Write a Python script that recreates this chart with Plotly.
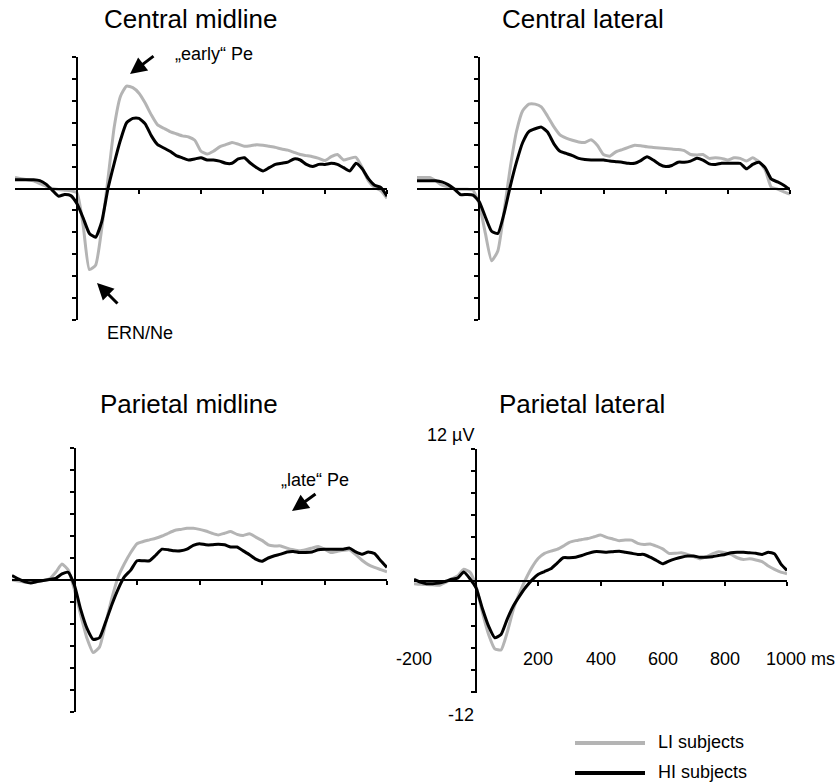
import plotly.graph_objects as go

# time base (ms)
t_ms = list(range(-200, 1001, 20))

# Central midline
cm_li = [1.0, 0.9, 0.8, 0.7, 0.45, 0.2, 0.0, -0.1, -0.15, -0.2,
         -0.4, -3.4, -7.4, -7.0, -3.6, 0.9, 5.6, 8.4, 9.35, 9.2,
         8.7, 7.8, 6.7, 5.8, 5.5, 5.2, 5.0, 4.8, 4.7, 4.4,
         3.4, 3.15, 3.4, 3.8, 4.0, 4.2, 4.05, 3.85, 3.9, 4.0,
         3.95, 3.85, 3.75, 3.6, 3.5, 3.3, 3.1, 3.0, 2.9, 2.75,
         2.55, 2.9, 3.1, 2.6, 2.75, 2.85, 1.9, 0.7, 0.1, -0.2, -0.9]
cm_hi = [0.8, 0.8, 0.8, 0.8, 0.72, 0.4, -0.15, -0.7, -0.55, -0.65,
         -1.4, -2.7, -4.1, -4.45, -3.0, 0.0, 2.3, 4.4, 6.0, 6.4,
         6.4, 5.9, 4.8, 4.0, 3.7, 3.4, 3.0, 2.8, 2.6, 2.7,
         2.8, 2.6, 2.6, 2.5, 2.3, 2.3, 2.7, 2.8, 2.3, 1.9,
         1.6, 1.9, 2.2, 2.3, 2.4, 2.7, 2.6, 2.2, 2.0, 2.2,
         2.2, 2.3, 2.2, 1.9, 1.6, 2.3, 1.8, 0.9, 0.3, 0.1, -0.7]

# Central lateral
cl_li = [1.0, 1.0, 1.0, 0.7, 0.3, 0.15, -0.05, -0.06, -0.06, -0.15,
         -1.4, -4.1, -6.6, -5.7, -2.1, 1.9, 5.2, 7.1, 7.7, 7.7,
         7.45, 6.6, 5.65, 4.9, 4.6, 4.4, 4.25, 4.2, 4.45, 3.95,
         3.1, 2.95, 3.35, 3.55, 3.75, 3.95, 3.9, 3.8, 3.75, 3.7,
         3.65, 3.6, 3.55, 3.45, 3.1, 3.05, 3.1, 2.75, 2.8, 2.75,
         2.6, 2.8, 2.75, 2.5, 2.8, 2.45, 1.7, 0.1, -0.05, -0.3, -0.5]
cl_hi = [0.7, 0.7, 0.7, 0.7, 0.6, 0.35, -0.05, -0.55, -0.55, -0.6,
         -1.2, -2.6, -3.9, -4.1, -2.3, 0.2, 2.4, 4.2, 5.2, 5.45,
         5.6, 5.15, 4.1, 3.4, 3.2, 3.0, 2.75, 2.65, 2.6, 2.6,
         2.6, 2.5, 2.45, 2.4, 2.3, 2.3, 2.55, 2.9, 2.6, 2.2,
         2.0, 2.1, 2.4, 2.4, 2.5, 2.75, 2.6, 2.25, 2.2, 2.3,
         2.3, 2.3, 2.3, 1.8, 2.2, 2.4, 1.9, 0.85, 0.6, 0.3, -0.1]

# Parietal midline
pm_li = [0.0, -0.1, -0.2, -0.18, -0.15, -0.05, 0.1, 0.7, 1.45, 0.9,
         -0.9, -3.2, -5.3, -6.6, -6.1, -3.9, -1.6, 0.3, 1.5, 2.5,
         3.3, 3.5, 3.65, 3.8, 4.0, 4.25, 4.5, 4.6, 4.7, 4.7,
         4.6, 4.45, 4.25, 4.1, 4.25, 4.4, 4.15, 4.05, 4.2, 3.9,
         3.6, 3.2, 3.1, 3.1, 2.9, 2.75, 2.65, 2.75, 2.9, 3.05,
         2.8, 2.5, 2.6, 2.7, 2.75, 2.3, 1.8, 1.4, 1.15, 0.95, 0.75]
pm_hi = [0.4, 0.1, -0.15, -0.27, -0.15, -0.05, 0.05, 0.15, 0.55, 0.7,
         -0.5, -2.7, -4.4, -5.4, -5.25, -3.8, -2.2, -0.8, 0.3, 0.9,
         1.75, 1.75, 1.75, 2.25, 2.8, 2.75, 2.65, 2.65, 2.8, 3.15,
         3.3, 3.2, 3.2, 3.25, 3.2, 3.0, 3.0, 2.65, 2.3, 1.9,
         1.7, 2.0, 2.2, 2.35, 2.55, 2.6, 2.5, 2.5, 2.55, 2.75,
         2.8, 2.8, 2.8, 2.8, 2.9, 2.55, 2.35, 2.55, 2.4, 1.75, 1.15]

# Parietal lateral
pl_li = [-0.2, -0.25, -0.27, -0.3, -0.35, -0.1, 0.2, 0.5, 1.1, 0.85,
         -0.45, -2.8, -4.8, -6.1, -6.2, -4.6, -2.5, -1.0, 0.25, 1.3,
         2.1, 2.55, 2.75, 2.9, 3.2, 3.55, 3.7, 3.8, 3.9, 4.05,
         4.2, 4.0, 3.85, 3.7, 3.75, 3.75, 3.45, 3.35, 3.4, 3.2,
         2.95, 2.55, 2.55, 2.6, 2.45, 2.25, 2.05, 2.25, 2.5, 2.7,
         2.6, 2.45, 2.15, 2.0, 2.05, 1.95, 1.8, 1.4, 1.1, 0.85, 0.7]
pl_hi = [0.2, -0.05, -0.2, -0.2, -0.15, 0.0, 0.2, 0.3, 0.85, 0.25,
         -0.6, -2.45, -4.05, -5.1, -4.8, -3.4, -2.2, -1.3, -0.5, 0.15,
         0.65, 0.9, 1.15, 1.65, 2.15, 2.15, 2.2, 2.35, 2.55, 2.7,
         2.7, 2.65, 2.7, 2.75, 2.65, 2.55, 2.45, 2.45, 2.2, 1.9,
         1.6, 1.85, 2.05, 2.2, 2.3, 2.3, 2.2, 2.2, 2.25, 2.35,
         2.45, 2.6, 2.65, 2.65, 2.6, 2.55, 2.45, 2.65, 2.5, 1.6, 1.0]

panel_titles = ["Central midline", "Central lateral", "Parietal midline", "Parietal lateral"]
series_names = ["LI subjects", "HI subjects"]
y_ticks = list(range(-12, 13, 2))
x_ticks = [200, 400, 600, 800, 1000]
x_tick_labels = ["-200", "200", "400", "600", "800"]
x_tick_label_vals = [-200, 200, 400, 600, 800]

GREY = "#b4b4b4"
BLACK = "#000000"
FONT = "Liberation Sans, Arial, sans-serif"
W, H = 840, 784
TITLE_SIZE = 26
LABEL_SIZE = 18

def px_x(p):
    return p / W

def px_y(p):
    return 1 - p / H

# panel geometry in pixels: (left, right, top, bottom), y range
panels = [
    dict(x=(15, 387), y=(57, 320), yr=(-12, 12), li=cm_li, hi=cm_hi),
    dict(x=(417, 790), y=(57, 320), yr=(-12, 12), li=cl_li, hi=cl_hi),
    dict(x=(12, 387), y=(448, 712), yr=(-12, 12), li=pm_li, hi=pm_hi),
    dict(x=(414, 787), y=(449, 693), yr=(-10.1, 12), li=pl_li, hi=pl_hi),
]
XR = (-200, 1000)

fig = go.Figure()
layout = dict(width=W, height=H, margin=dict(l=0, r=0, t=0, b=0),
              paper_bgcolor="white", plot_bgcolor="rgba(0,0,0,0)",
              showlegend=False, font=dict(family=FONT, color="black"))

for i, p in enumerate(panels, start=1):
    xd = [px_x(p["x"][0]), px_x(p["x"][1])]
    yd = [px_y(p["y"][1]), px_y(p["y"][0])]
    # paper position of x=0 and y=0
    x0_pos = xd[0] + (0 - XR[0]) / (XR[1] - XR[0]) * (xd[1] - xd[0])
    y0_pos = yd[0] + (0 - p["yr"][0]) / (p["yr"][1] - p["yr"][0]) * (yd[1] - yd[0])
    sfx = "" if i == 1 else str(i)
    layout["xaxis" + sfx] = dict(domain=xd, range=list(XR), anchor="free", position=y0_pos,
                                 showline=True, linecolor="black", linewidth=2,
                                 ticks="outside", tickvals=x_ticks, ticklen=4, tickwidth=1.5,
                                 tickcolor="black", showticklabels=False, showgrid=False,
                                 zeroline=False, fixedrange=True)
    layout["yaxis" + sfx] = dict(domain=yd, range=list(p["yr"]), anchor="free", position=x0_pos,
                                 showline=True, linecolor="black", linewidth=2,
                                 ticks="outside", tickvals=y_ticks, ticklen=4, tickwidth=1.5,
                                 tickcolor="black", showticklabels=False, showgrid=False,
                                 zeroline=False, fixedrange=True)
    fig.add_trace(go.Scatter(x=t_ms, y=p["li"], mode="lines", name=series_names[0],
                             line=dict(color=GREY, width=3, shape="spline", smoothing=0.5),
                             xaxis="x" + sfx, yaxis="y" + sfx))
    fig.add_trace(go.Scatter(x=t_ms, y=p["hi"], mode="lines", name=series_names[1],
                             line=dict(color=BLACK, width=3, shape="spline", smoothing=0.5),
                             xaxis="x" + sfx, yaxis="y" + sfx))

anns = []
# panel titles
title_pos = [(190, 19), (583, 19), (189, 404), (582, 404)]
for txt, (cx, cy) in zip(panel_titles, title_pos):
    anns.append(dict(text=txt, x=px_x(cx), y=px_y(cy), xref="paper", yref="paper",
                     showarrow=False, xanchor="center", yanchor="middle",
                     font=dict(size=TITLE_SIZE, family=FONT, color="black")))

def label(txt, cx, cy, size=LABEL_SIZE, xanchor="center"):
    anns.append(dict(text=txt, x=px_x(cx), y=px_y(cy), xref="paper", yref="paper",
                     showarrow=False, xanchor=xanchor, yanchor="middle",
                     font=dict(size=size, family=FONT, color="black")))

def arrow(hx, hy, tx, ty):
    anns.append(dict(text="", x=px_x(hx), y=px_y(hy), xref="paper", yref="paper",
                     showarrow=True, ax=tx - hx, ay=ty - hy, arrowhead=2,
                     arrowsize=1.1, arrowwidth=3, arrowcolor="black"))

label("\u201eearly\u201c Pe", 214, 54)
label("ERN/Ne", 140, 333)
label("\u201elate\u201c Pe", 315, 480)
arrow(130, 74, 155, 55)
arrow(97, 283, 119, 305)
arrow(292, 511, 317, 493)

# axis labels in the parietal lateral panel
for v, txt in zip(x_tick_label_vals, x_tick_labels):
    anns.append(dict(text=txt, x=v, y=-7.0, xref="x4", yref="y4", showarrow=False,
                     xanchor="center", yanchor="middle",
                     font=dict(size=LABEL_SIZE, family=FONT, color="black")))
anns.append(dict(text="1000 ms", x=1000, y=-7.0, xref="x4", yref="y4", showarrow=False,
                 xanchor="left", yanchor="middle", xshift=-23,
                 font=dict(size=LABEL_SIZE, family=FONT, color="black")))
anns.append(dict(text="12 \u00b5V", x=0, y=12, xref="x4", yref="y4", showarrow=False,
                 xanchor="right", yanchor="bottom", yshift=2,
                 font=dict(size=LABEL_SIZE, family=FONT, color="black")))
anns.append(dict(text="-12", x=0, y=-10.1, xref="x4", yref="y4", showarrow=False,
                 xanchor="right", yanchor="top", yshift=-10,
                 font=dict(size=LABEL_SIZE, family=FONT, color="black")))

# legend
label(series_names[0], 656, 742, xanchor="left")
label(series_names[1], 656, 772, xanchor="left")
shapes = [
    dict(type="line", xref="paper", yref="paper", x0=px_x(575), x1=px_x(645),
         y0=px_y(743), y1=px_y(743), line=dict(color=GREY, width=4)),
    dict(type="line", xref="paper", yref="paper", x0=px_x(575), x1=px_x(645),
         y0=px_y(773), y1=px_y(773), line=dict(color=BLACK, width=4)),
]

layout["annotations"] = anns
layout["shapes"] = shapes
fig.update_layout(**layout)
fig.write_html("out.html", config={"displayModeBar": False},
               post_script="document.body.style.margin='0';document.body.style.padding='0';"
                           "document.body.style.overflow='hidden';")
